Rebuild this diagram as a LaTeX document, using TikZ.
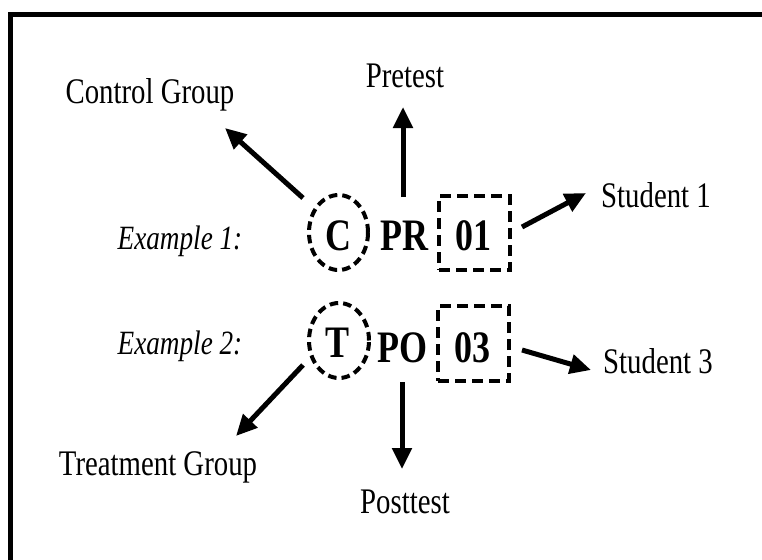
\documentclass[tikz,border=0pt]{standalone}
\usepackage{fontspec}
\setmainfont{Liberation Serif}[FakeStretch=0.8]
\usetikzlibrary{arrows.meta,shapes.geometric}
\tikzset{
  lbl/.style={font=\fontsize{36}{42}\selectfont, anchor=base, inner sep=0pt},
  exlbl/.style={font=\fontsize{34}{40}\selectfont\itshape, anchor=base, inner sep=0pt},
  code/.style={font=\fontsize{45}{50}\selectfont\bfseries, anchor=base, inner sep=0pt},
  dashell/.style={draw, ellipse, line width=4pt, dash pattern=on 8.5pt off 5pt, inner sep=0pt},
  dashbox/.style={draw, rectangle, line width=4pt, dash pattern=on 11pt off 6pt, inner sep=0pt},
  arr/.style={line width=5pt, -{Triangle[length=21pt,width=19pt]}}
}
\begin{document}
\begin{tikzpicture}[x=1pt,y=-1pt]
\useasboundingbox (0,0) rectangle (762,559);
% frame
\draw[line width=5pt] (10.5,600) -- (10.5,14.5) -- (800,14.5);
% labels
\node[lbl] (ctrl) at (150,103) {Control Group};
\node[lbl] (pre) at (405,88) {Pretest};
\node[lbl] (stu1) at (656,207) {Student 1};
\node[lbl] (stu3) at (658,373) {Student 3};
\node[lbl] (treat) at (158,475) {Treatment Group};
\node[lbl] (post) at (405,513) {Posttest};
\node[exlbl] (ex1) at (180,249) {Example 1:};
\node[exlbl] (ex2) at (180,354) {Example 2:};
% row 1
\node[dashell, minimum width=59pt, minimum height=75pt] (ellC) at (338.5,232.5) {};
\node[code] (C) at (338,250) {C};
\node[code] (PR) at (404,250) {PR};
\node[dashbox, minimum width=71pt, minimum height=74pt] (box01) at (474.5,233) {};
\node[code] (n01) at (473,250) {01};
% row 2
\node[dashell, minimum width=60pt, minimum height=75pt] (ellT) at (339,340.5) {};
\node[code] (T) at (337.5,357) {T};
\node[code] (PO) at (402.5,362) {PO};
\node[dashbox, minimum width=71pt, minimum height=75pt] (box03) at (473.5,343.5) {};
\node[code] (n03) at (472,362) {03};
% arrow ends
\coordinate (a1s) at (303,198); \coordinate (a1e) at (225,128);
\coordinate (a2s) at (403,197); \coordinate (a2e) at (403,107);
\coordinate (a3s) at (522,227); \coordinate (a3e) at (586,193);
\coordinate (a4s) at (522,350); \coordinate (a4e) at (591,370);
\coordinate (a5s) at (303,365); \coordinate (a5e) at (236,436);
\coordinate (a6s) at (402,382); \coordinate (a6e) at (402,469);
\draw[arr] (a1s) -- (a1e);
\draw[arr] (a2s) -- (a2e);
\draw[arr] (a3s) -- (a3e);
\draw[arr] (a4s) -- (a4e);
\draw[arr] (a5s) -- (a5e);
\draw[arr] (a6s) -- (a6e);
\end{tikzpicture}
\end{document}
